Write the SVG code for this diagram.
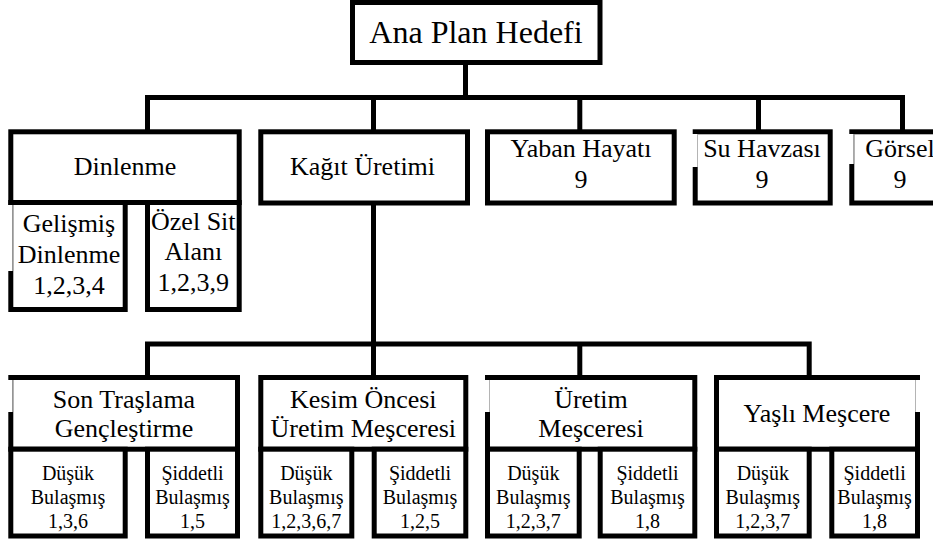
<svg xmlns="http://www.w3.org/2000/svg" width="933" height="544" viewBox="0 0 933 544">
<style>
.b{fill:#fff;stroke:#000;stroke-width:5}
.c{fill:none;stroke:#000;stroke-width:5;stroke-linecap:square}
text{font-family:'Liberation Serif','Times New Roman',Times,serif;fill:#000;text-anchor:middle}
.f32{font-size:32px}
.f26{font-size:26px}
.f20{font-size:20px}
.w{fill:#fff;stroke:none}
.g{stroke:#b4b4b4;stroke-width:1}
</style>
<rect width="933" height="544" fill="#fff"/>
<g id="connectors">
<path class="c" d="M465.5 62.5V97.5M147.5 97.5H902.5M147.5 97.5V131M373.5 97.5V131M579.8 97.5V131M758.5 97.5V131M902.5 97.5V131"/>
<path class="c" d="M373.5 203V344M147.5 344H809.2M147.5 344V377M373.5 344V377M579.8 344V377M809.2 344V377"/>
</g>
<g font-family="Liberation Serif, serif">
<g id="root">
<rect class="b" x="352.5" y="2.5" width="247.5" height="60"/>
<text class="f32" x="476" y="43">Ana Plan Hedefi</text>
</g>
<g id="dinlenme">
<rect class="b" x="10.8" y="131.8" width="228.4" height="70.7"/>
<text class="f26" x="125" y="175">Dinlenme</text>
</g>
<g id="gelismis">
<rect class="b" x="10.8" y="202.5" width="114.4" height="107"/>
<rect class="w" x="7" y="205" width="5.3" height="66"/>
<line class="g" x1="12.8" y1="205" x2="12.8" y2="271"/>
<text class="f26" x="69" y="232">Gelişmiş<tspan x="69" y="263">Dinlenme</tspan><tspan x="69" y="294">1,2,3,4</tspan></text>
</g>
<g id="ozelsit">
<rect class="b" x="147.5" y="202.5" width="91.7" height="107"/>
<text class="f26" x="193.3" y="230">Özel Sit<tspan x="193.3" y="260">Alanı</tspan><tspan x="193.3" y="291">1,2,3,9</tspan></text>
</g>
<g id="kagit">
<rect class="b" x="260.8" y="131.8" width="206.7" height="71.2"/>
<text class="f26" x="362.5" y="175">Kağıt Üretimi</text>
</g>
<g id="yaban">
<rect class="b" x="487.5" y="131.8" width="186.7" height="71.2"/>
<text class="f26" x="581" y="157">Yaban Hayatı<tspan x="581" y="188">9</tspan></text>
</g>
<g id="su">
<rect class="b" x="695.2" y="131.8" width="135" height="71.2"/>
<rect class="w" x="692" y="134" width="5" height="33"/>
<line class="g" x1="697.5" y1="134" x2="697.5" y2="167"/>
<text class="f26" x="762" y="157">Su Havzası<tspan x="762" y="188">9</tspan></text>
</g>
<g id="gorsel">
<rect class="b" x="851.8" y="131.8" width="95" height="71.2"/>
<rect class="w" x="849" y="134" width="4.6" height="30"/>
<line class="g" x1="854" y1="134" x2="854" y2="164"/>
<text class="f26" x="900" y="157">Görsel<tspan x="900" y="188">9</tspan></text>
</g>
<g id="son">
<rect class="b" x="10.8" y="377.5" width="226.7" height="71.7"/>
<rect class="w" x="7" y="380" width="5.3" height="32"/>
<line class="g" x1="12.8" y1="380" x2="12.8" y2="412"/>
<text class="f26" x="124" y="408">Son Traşlama<tspan x="124" y="437">Gençleştirme</tspan></text>
</g>
<g id="son-dusuk">
<rect class="b" x="10.8" y="449.2" width="114.4" height="86.8"/>
<text class="f20" x="68" y="480">Düşük<tspan x="68" y="504">Bulaşmış</tspan><tspan x="68" y="528">1,3,6</tspan></text>
</g>
<g id="son-siddetli">
<rect class="b" x="147.5" y="449.2" width="90" height="86.8"/>
<text class="f20" x="192.5" y="480">Şiddetli<tspan x="192.5" y="504">Bulaşmış</tspan><tspan x="192.5" y="528">1,5</tspan></text>
</g>
<g id="kesim">
<rect class="b" x="260.8" y="377.5" width="205" height="71.7"/>
<text class="f26" x="363.3" y="408">Kesim Öncesi<tspan x="363.3" y="437">Üretim Meşceresi</tspan></text>
</g>
<g id="kesim-dusuk">
<rect class="b" x="260.8" y="449.2" width="91" height="86.8"/>
<text class="f20" x="306.3" y="480">Düşük<tspan x="306.3" y="504">Bulaşmış</tspan><tspan x="306.3" y="528">1,2,3,6,7</tspan></text>
</g>
<g id="kesim-siddetli">
<rect class="b" x="374.2" y="449.2" width="91.6" height="86.8"/>
<text class="f20" x="420" y="480">Şiddetli<tspan x="420" y="504">Bulaşmış</tspan><tspan x="420" y="528">1,2,5</tspan></text>
</g>
<g id="uretim">
<rect class="b" x="487.5" y="377.5" width="207.3" height="71.7"/>
<rect class="w" x="484.5" y="380" width="4.5" height="32"/>
<line class="g" x1="489.5" y1="380" x2="489.5" y2="412"/>
<text class="f26" x="591" y="408">Üretim<tspan x="591" y="437">Meşceresi</tspan></text>
</g>
<g id="uretim-dusuk">
<rect class="b" x="487.5" y="449.2" width="91.7" height="86.8"/>
<text class="f20" x="533.3" y="480">Düşük<tspan x="533.3" y="504">Bulaşmış</tspan><tspan x="533.3" y="528">1,2,3,7</tspan></text>
</g>
<g id="uretim-siddetli">
<rect class="b" x="600.2" y="449.2" width="94.6" height="86.8"/>
<text class="f20" x="647.5" y="480">Şiddetli<tspan x="647.5" y="504">Bulaşmış</tspan><tspan x="647.5" y="528">1,8</tspan></text>
</g>
<g id="yasli">
<rect class="b" x="716.5" y="377.5" width="201" height="71.7"/>
<rect class="w" x="916" y="380" width="4.5" height="32"/>
<line class="g" x1="915.5" y1="380" x2="915.5" y2="412"/>
<text class="f26" x="817" y="422">Yaşlı Meşcere</text>
</g>
<g id="yasli-dusuk">
<rect class="b" x="716.5" y="449.2" width="92.7" height="86.8"/>
<text class="f20" x="762.8" y="480">Düşük<tspan x="762.8" y="504">Bulaşmış</tspan><tspan x="762.8" y="528">1,2,3,7</tspan></text>
</g>
<g id="yasli-siddetli">
<rect class="b" x="831.8" y="449.2" width="85.7" height="86.8"/>
<text class="f20" x="874.6" y="480">Şiddetli<tspan x="874.6" y="504">Bulaşmış</tspan><tspan x="874.6" y="528">1,8</tspan></text>
</g>
</g>
</svg>
